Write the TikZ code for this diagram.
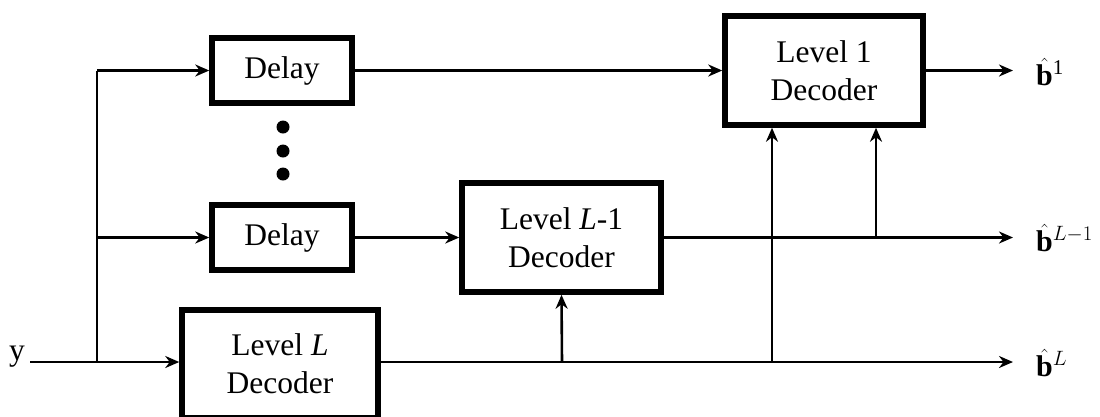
\documentclass[tikz,border=0pt]{standalone}
\usepackage{fontspec}
\setmainfont{Liberation Serif}
\usetikzlibrary{arrows.meta}
\begin{document}
\begin{tikzpicture}[x=1pt,y=-1pt,
  blk/.style={draw,line width=5.5pt,rectangle,align=center,inner sep=0pt,font=\fontsize{31.5}{38}\selectfont},
  wire/.style={line width=2.6pt},
  arr/.style={wire,-{Stealth[length=14pt,width=12pt,inset=4.5pt]}},
  outlbl/.style={anchor=west,inner sep=0pt,font=\fontsize{30}{34}\selectfont}]
\useasboundingbox (0,0) rectangle (1100,416);
\node[blk,minimum width=140pt,minimum height=65pt] (D1) at (282,70.5) {Delay};
\node[blk,minimum width=140pt,minimum height=65pt] (D2) at (282,237.5) {Delay};
\node[blk,minimum width=199pt,minimum height=109pt] (LM) at (561.5,237.5) {Level \textit{L}-1\\Decoder};
\node[blk,minimum width=198pt,minimum height=109pt] (L1) at (824,70.5) {Level 1\\Decoder};
\node[blk,minimum width=196pt,minimum height=108pt] (LL) at (280,364) {Level \textit{L}\\Decoder};
\fill (283,127) circle (6.5pt) (283,151) circle (6.5pt) (283,174) circle (6.5pt);
\node[inner sep=0pt,font=\fontsize{31.5}{38}\selectfont] (ylbl) at (17,357) {y};
\coordinate (yin) at (30,362);
\coordinate (br) at (97,362);
\draw[arr] (yin) -- (LL.west |- yin);
\draw[wire] (br) -- (br |- D1.west);
\draw[arr] (br |- D1.west) -- (D1.west);
\draw[arr] (br |- D2.west) -- (D2.west);
\draw[arr] (D1.east) -- (L1.west);
\draw[arr] (D2.east) -- (LM.west);
\coordinate (o1) at (1013,70.5);
\coordinate (oM) at (1013,237.5);
\coordinate (oL) at (1013,362);
\draw[arr] (L1.east) -- (o1);
\draw[arr] (LM.east) -- (oM);
\draw[arr] (LL.east |- yin) -- (oL);
\node[outlbl] (b1) at (1036,72) {$\hat{\textbf{b}}$\raisebox{11pt}{\fontsize{21}{22}\selectfont 1}};
\node[outlbl] (bM) at (1036,238) {$\hat{\textbf{b}}$\raisebox{11pt}{\fontsize{21}{22}\selectfont$L{-}1$}};
\node[outlbl] (bL) at (1036,363) {$\hat{\textbf{b}}$\raisebox{11pt}{\fontsize{21}{22}\selectfont$L$}};
\coordinate (v1) at (562,362);
\coordinate (v2) at (772,362);
\coordinate (v3) at (876,237.5);
\draw[arr] (v1) -- (LM.south);
\draw[arr] (v2) -- (v2 |- L1.south);
\draw[arr] (v3) -- (v3 |- L1.south);
\end{tikzpicture}
\end{document}
